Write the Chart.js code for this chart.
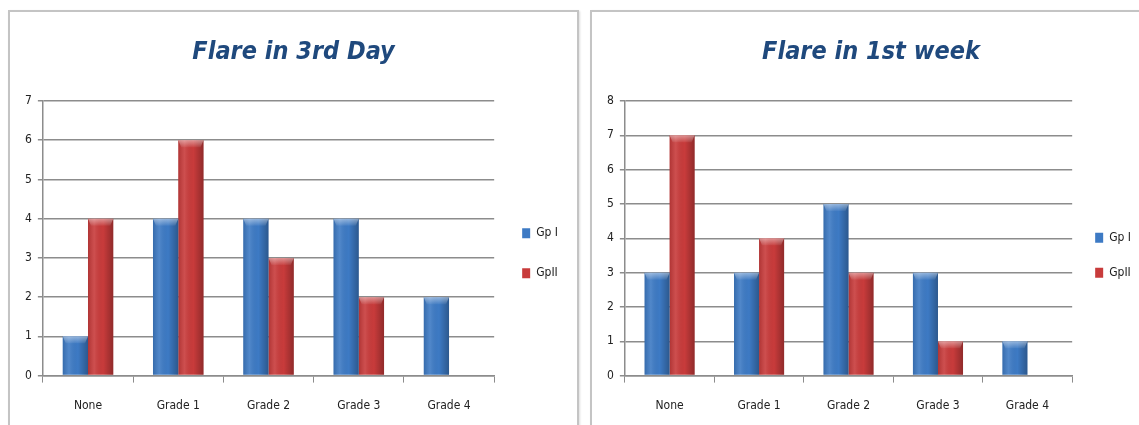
<!DOCTYPE html>
<html>
<head>
<meta charset="utf-8">
<script src="https://cdn.jsdelivr.net/npm/chart.js@4.4.1/dist/chart.umd.min.js"></script>
<style>
  body { margin: 0; background: #fff; width: 1139px; height: 425px; overflow: hidden; position: relative; }
  .frame { position: absolute; top: 10px; height: 424px; border: 2px solid #c4c4c4; box-shadow: 1px 1px 2px #ddd; background: #fff; }
  .frame canvas { position: absolute; left: 0; top: 0; }
</style>
</head>
<body>
<div class="frame" style="left:8px; width:567px;"><canvas id="dayChart"></canvas></div>
<div class="frame" style="left:590px; width:560px;"><canvas id="weekChart"></canvas></div>
<script>
// grades on the x axis
var grades = ['None', 'Grade 1', 'Grade 2', 'Grade 3', 'Grade 4'];
var seriesNames = ['Gp I', 'GpII'];

// flare counts at 3rd day
var dayGp1 = [1, 4, 4, 4, 2];
var dayGp2 = [4, 6, 3, 2, 0];

// flare counts at 1st week
var weekGp1 = [3, 3, 5, 3, 1];
var weekGp2 = [7, 4, 3, 1, 0];

var blue = '#3d7ac4';
var red = '#c83b3b';
var gridGrey = '#8c8c8c';
var tickFont = { family: "'Liberation Sans Narrow', 'DejaVu Sans Condensed', sans-serif", size: 12 };

// shading on each bar so it looks like a rounded column
var barShade = {
    id: 'barShade',
    afterDatasetsDraw: function(chart) {
        var ctx = chart.ctx;
        chart.data.datasets.forEach(function(ds, i) {
            chart.getDatasetMeta(i).data.forEach(function(bar) {
                var h = bar.base - bar.y;
                if (h <= 0) return;
                var left = bar.x - bar.width / 2;
                var g = ctx.createLinearGradient(left, 0, left + bar.width, 0);
                g.addColorStop(0, 'rgba(0,0,0,0.12)');
                g.addColorStop(0.25, 'rgba(255,255,255,0.10)');
                g.addColorStop(0.6, 'rgba(0,0,0,0)');
                g.addColorStop(1, 'rgba(0,0,0,0.28)');
                ctx.save();
                ctx.fillStyle = g;
                ctx.fillRect(left, bar.y, bar.width, h);
                // light cap at the top
                var cap = Math.min(7, h);
                var cg = ctx.createLinearGradient(0, bar.y, 0, bar.y + cap);
                cg.addColorStop(0, 'rgba(255,255,255,0.45)');
                cg.addColorStop(1, 'rgba(255,255,255,0.05)');
                ctx.fillStyle = cg;
                ctx.beginPath();
                ctx.moveTo(left, bar.y);
                ctx.lineTo(left + bar.width, bar.y);
                ctx.lineTo(left + bar.width - 3, bar.y + cap);
                ctx.lineTo(left + 3, bar.y + cap);
                ctx.closePath();
                ctx.fill();
                ctx.restore();
            });
        });
    }
};

function makeChart(id, w, title, gp1, gp2, yMax, legendGap, legendShift, rightPad) {
    var canvas = document.getElementById(id);
    canvas.width = w;
    canvas.height = 420;
    canvas.style.width = w + 'px';
    canvas.style.height = '420px';
    return new Chart(canvas.getContext('2d'), {
        type: 'bar',
        data: {
            labels: grades,
            datasets: [
                { label: seriesNames[0], data: gp1, backgroundColor: blue, borderWidth: 0 },
                { label: seriesNames[1], data: gp2, backgroundColor: red, borderWidth: 0 }
            ]
        },
        options: {
            responsive: false,
            animation: false,
            categoryPercentage: 0.56,
            barPercentage: 1,
            layout: { padding: { left: 9, right: rightPad, top: 25, bottom: 3 } },
            plugins: {
                title: {
                    display: true,
                    text: title,
                    color: '#1f497d',
                    font: { family: "'Liberation Sans Narrow', 'DejaVu Sans Condensed', sans-serif", size: 25, style: 'italic', weight: 'bold' },
                    padding: { top: 0, bottom: 34 }
                },
                legend: {
                    position: 'right',
                    // blank title just pushes the two entries down a bit
                    title: { display: true, text: ' ', font: { size: 12 }, padding: { top: legendShift, bottom: legendShift } },
                    labels: {
                        boxWidth: 8,
                        boxHeight: 10,
                        padding: legendGap,
                        color: '#222',
                        font: tickFont
                    }
                },
                tooltip: { enabled: false }
            },
            scales: {
                x: {
                    grid: { drawOnChartArea: false, color: gridGrey, tickLength: 7, offset: true },
                    border: { color: gridGrey, width: 1.5 },
                    ticks: { color: '#222', font: tickFont, padding: 16 }
                },
                y: {
                    min: 0,
                    max: yMax,
                    grid: { color: gridGrey, lineWidth: 1.5, tickLength: 5 },
                    border: { color: gridGrey, width: 1.5 },
                    ticks: { stepSize: 1, color: '#222', font: tickFont, padding: 6 }
                }
            }
        },
        plugins: [barShade]
    });
}

makeChart('dayChart', 567, 'Flare in 3rd Day', dayGp1, dayGp2, 7, 28, 13, 9);
makeChart('weekChart', 560, 'Flare in 1st week', weekGp1, weekGp2, 8, 23, 15, 11);
</script>
</body>
</html>
